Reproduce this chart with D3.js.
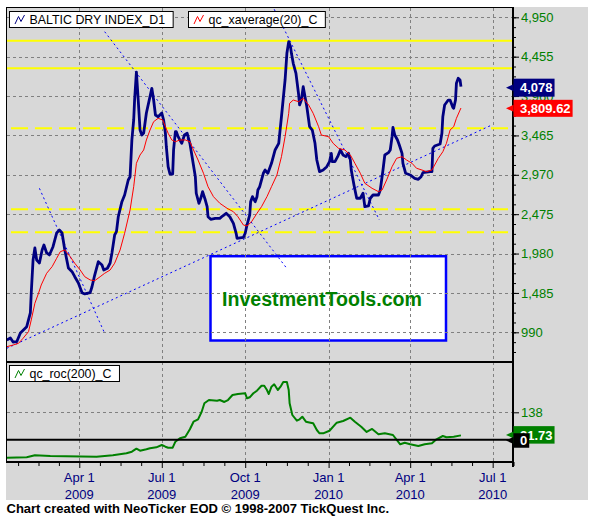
<!DOCTYPE html>
<html><head><meta charset="utf-8">
<script src="https://cdn.jsdelivr.net/npm/d3@7"></script>
<style>html,body{margin:0;padding:0;background:#fff;}svg{display:block;}</style>
</head><body>
<svg id="c" width="606" height="525" font-family="'Liberation Sans', Arial, sans-serif"></svg>
<script>
// ---------------- DATA ----------------
const bdiDates = ["2009-01-11","2009-01-15","2009-01-18","2009-01-22","2009-01-26","2009-02-02","2009-02-06","2009-02-07","2009-02-09","2009-02-11",
"2009-02-13","2009-02-16","2009-02-19","2009-02-21","2009-02-24","2009-02-27","2009-03-03","2009-03-07","2009-03-10","2009-03-13",
"2009-03-16","2009-03-20","2009-03-24","2009-03-27","2009-03-31","2009-04-04","2009-04-07","2009-04-13","2009-04-15","2009-04-18",
"2009-04-22","2009-04-26","2009-04-28","2009-05-02","2009-05-05","2009-05-07","2009-05-10","2009-05-12","2009-05-14","2009-05-18",
"2009-05-21","2009-05-25","2009-05-27","2009-05-29","2009-05-31","2009-06-01","2009-06-03","2009-06-05","2009-06-07","2009-06-09",
"2009-06-11","2009-06-14","2009-06-20","2009-06-22","2009-06-24","2009-06-27","2009-07-01","2009-07-03","2009-07-05","2009-07-06",
"2009-07-08","2009-07-10","2009-07-13","2009-07-14","2009-07-16","2009-07-17","2009-07-19","2009-07-23","2009-07-26","2009-07-29",
"2009-08-01","2009-08-04","2009-08-07","2009-08-08","2009-08-11","2009-08-13","2009-08-15","2009-08-18","2009-08-20","2009-08-21",
"2009-08-24","2009-08-29","2009-09-03","2009-09-06","2009-09-10","2009-09-14","2009-09-18","2009-09-21","2009-09-22","2009-09-29",
"2009-10-01","2009-10-03","2009-10-06","2009-10-07","2009-10-09","2009-10-12","2009-10-14","2009-10-15","2009-10-17","2009-10-21",
"2009-10-23","2009-10-26","2009-10-30","2009-11-03","2009-11-07","2009-11-10","2009-11-14","2009-11-16","2009-11-18","2009-11-20",
"2009-11-21","2009-11-23","2009-11-26","2009-11-29","2009-11-30","2009-12-02","2009-12-04","2009-12-06","2009-12-08","2009-12-11",
"2009-12-14","2009-12-17","2009-12-19","2009-12-22","2009-12-26","2009-12-30","2010-01-02","2010-01-04","2010-01-05","2010-01-08",
"2010-01-11","2010-01-14","2010-01-17","2010-01-20","2010-01-23","2010-01-25","2010-01-26","2010-01-29","2010-02-01","2010-02-05",
"2010-02-08","2010-02-10","2010-02-14","2010-02-16","2010-02-19","2010-02-25","2010-02-27","2010-03-02","2010-03-04","2010-03-08",
"2010-03-10","2010-03-12","2010-03-13","2010-03-15","2010-03-18","2010-03-20","2010-03-23","2010-03-24","2010-03-27","2010-04-01",
"2010-04-06","2010-04-10","2010-04-13","2010-04-15","2010-04-23","2010-04-25","2010-04-26","2010-04-28","2010-05-04","2010-05-06",
"2010-05-07","2010-05-09","2010-05-13","2010-05-15","2010-05-18","2010-05-19","2010-05-21","2010-05-22","2010-05-24","2010-05-26","2010-05-27"];
const bdiValues = [893,919,868,872,981,1061,1233,1484,1899,2050,
1899,1861,2025,2088,1987,1962,2066,2238,2276,2238,
2025,1798,1752,1689,1610,1488,1472,1488,1563,1710,
1878,1836,1773,1795,1861,1987,2213,2255,2443,2632,
2716,2905,2946,3408,3659,3910,4262,3910,3533,3470,
3495,3747,4057,3910,3722,3700,3747,3659,3492,3323,
3072,2980,2980,3282,3512,3512,3449,3366,3470,3492,
3366,3156,2946,2738,2612,2675,2758,2653,2569,2443,
2411,2423,2423,2452,2486,2443,2360,2235,2172,2184,
2235,2339,2465,2632,2695,2632,2695,2779,2820,2989,
3030,2989,3115,3282,3366,3700,4162,4497,4643,4580,
4497,4372,4246,3973,3848,3910,4078,3952,3826,3575,
3533,3366,3156,3009,3030,3072,3135,3240,3135,3135,
3198,3282,3219,3198,3240,3156,3030,2842,2675,2675,
2738,2569,2578,2675,2716,2716,2779,3030,3219,3248,
3282,3449,3567,3470,3408,3345,3240,3115,2989,2968,
2926,2913,2946,2996,3009,3009,3303,3332,3357,3492,
3700,3848,3910,3910,3819,3806,3910,4120,4183,4162,4078];

const avgDates = ["2009-01-11","2009-01-18","2009-01-24","2009-01-29","2009-02-04","2009-02-07","2009-02-11","2009-02-15","2009-02-18","2009-02-24",
"2009-03-02","2009-03-07","2009-03-11","2009-03-16","2009-03-22","2009-03-27","2009-04-02","2009-04-07","2009-04-13","2009-04-18",
"2009-04-24","2009-04-29","2009-05-05","2009-05-10","2009-05-16","2009-05-21","2009-05-27","2009-05-31","2009-06-03","2009-06-07",
"2009-06-11","2009-06-14","2009-06-18","2009-06-22","2009-06-27","2009-07-02","2009-07-05","2009-07-08","2009-07-12","2009-07-16",
"2009-07-21","2009-07-27","2009-08-01","2009-08-05","2009-08-10","2009-08-16","2009-08-21","2009-08-27","2009-09-03","2009-09-11",
"2009-09-18","2009-09-23","2009-09-29","2009-10-03","2009-10-08","2009-10-14","2009-10-19","2009-10-25","2009-10-30","2009-11-05",
"2009-11-10","2009-11-14","2009-11-18","2009-11-19","2009-11-23","2009-11-29","2009-12-04","2009-12-10","2009-12-15","2009-12-21",
"2009-12-24","2010-01-01","2010-01-06","2010-01-12","2010-01-19","2010-01-25","2010-01-30","2010-02-05","2010-02-10","2010-02-18",
"2010-02-25","2010-03-01","2010-03-06","2010-03-12","2010-03-17","2010-03-23","2010-03-28","2010-04-03","2010-04-08","2010-04-14",
"2010-04-19","2010-04-25","2010-04-28","2010-05-02","2010-05-07","2010-05-11","2010-05-15","2010-05-19","2010-05-22","2010-05-27"];
const avgValues = [809,830,852,915,998,1145,1355,1480,1585,1732,
1815,1920,2003,2025,1940,1858,1773,1689,1648,1639,
1689,1732,1773,1858,2025,2235,2528,2820,3115,3219,
3282,3408,3533,3638,3680,3659,3575,3492,3408,3386,
3408,3408,3386,3282,3156,2989,2820,2695,2612,2549,
2506,2443,2339,2326,2380,2486,2569,2695,2820,2968,
3198,3449,3743,3869,3910,3889,3932,3848,3743,3575,
3470,3449,3366,3303,3282,3219,3115,2989,2863,2800,
2758,2779,2905,3072,3177,3198,3156,3115,3052,3030,
3009,3030,3093,3177,3260,3366,3533,3575,3680,3809.62];

const rocDates = ["2009-01-11","2009-02-02","2009-02-11","2009-02-28","2009-04-20","2009-05-08","2009-05-23","2009-05-29","2009-06-03","2009-06-07",
"2009-06-14","2009-06-18","2009-06-25","2009-07-01","2009-07-05","2009-07-08","2009-07-13","2009-07-16","2009-07-21","2009-07-27",
"2009-08-01","2009-08-05","2009-08-10","2009-08-14","2009-08-17","2009-08-22","2009-08-31","2009-09-03","2009-09-08","2009-09-12",
"2009-09-17","2009-09-23","2009-10-01","2009-10-03","2009-10-06","2009-10-10","2009-10-14","2009-10-19","2009-10-22","2009-10-25",
"2009-10-27","2009-10-30","2009-11-02","2009-11-06","2009-11-09","2009-11-12","2009-11-16","2009-11-18","2009-11-19","2009-11-22",
"2009-11-27","2009-11-30","2009-12-03","2009-12-07","2009-12-12","2009-12-15","2009-12-19","2009-12-22","2009-12-26","2010-01-02",
"2010-01-10","2010-01-17","2010-01-25","2010-01-30","2010-02-06","2010-02-12","2010-02-18","2010-02-25","2010-03-04","2010-03-13",
"2010-03-21","2010-03-26","2010-04-01","2010-04-10","2010-04-17","2010-04-25","2010-04-30","2010-05-07","2010-05-11","2010-05-19","2010-05-27"];
const rocValues = [-90.6,-88.6,-78.6,-82.1,-85.6,-78.6,-68.5,-60.4,-45.3,-55.4,
-48.3,-43.3,-38.3,-26.7,-35.3,-40.3,-40.3,-10.1,7.1,15.1,
52.4,90.6,102.7,141,183.3,199.9,196.4,199.9,189.9,199.9,
225.1,230.1,233.7,208.5,213.5,233.7,246.8,271.9,271.9,250.3,
230.1,266.9,279,250.3,266.9,290.6,290.6,250.3,183.3,124.4,
95.7,102.7,115.8,90.6,85.6,82.6,48.8,32.2,32.2,45.3,
85.6,94.2,110.8,90.6,65.5,38.8,53.9,27.2,32.2,23.7,
-23.2,-15.1,-23.2,-31.7,-23.2,-18.1,2.0,18.6,12.1,15.1,21.73];

// trend lines (start/end date & value)
const trendFromDates = ["2009-01-11","2009-02-16","2009-04-29","2009-11-02"];
const trendFromValues = [789, 2800, 4769, 5051];
const trendToDates = ["2010-06-30","2009-04-29","2009-11-15","2010-02-26"];
const trendToValues = [3596, 978, 1807, 2402];

const yellowSolidLevels = [4656, 4309];
const yellowDashedLevels = [3555, 2536, 2247];

const priceTicks = [990,1485,1980,2475,2970,3465,3960,4455,4950];
const priceMinorStep = 123.75;
const rocTicks = [138];

const quarterDates = ["2009-04-01","2009-07-01","2009-10-01","2010-01-01","2010-04-01","2010-07-01"];
const quarterLabels = ["Apr 1","Jul 1","Oct 1","Jan 1","Apr 1","Jul 1"];
const yearLabels = ["2009","2009","2009","2010","2010","2010"];
const allQuarters = ["2009-01-01","2009-04-01","2009-07-01","2009-10-01","2010-01-01","2010-04-01","2010-07-01","2010-10-01"];

const legendMain = ["BALTIC DRY INDEX_D1","qc_xaverage(20)_C"];
const legendRoc = "qc_roc(200)_C";
const lastLabels = {bdi:"4,078", avg:"3,809.62", roc:"21.73", zero:"0"};
const watermark = "InvestmentTools.com";
const footer = "Chart created with NeoTicker EOD \u00A9 1998-2007 TickQuest Inc.";

// ---------------- SETUP ----------------
const parse = d3.utcParse("%Y-%m-%d");
const svg = d3.select("#c");
const L = 7, R = 513, T = 8, MB = 362, B = 462;
const FONT = "'Liberation Sans', Arial, sans-serif";

const x = d3.scaleUtc().domain([new Date(Date.UTC(2009,0,11,6)), new Date(Date.UTC(2010,6,23,10))]).range([L, R]);
const yP = d3.scaleLinear().domain([616.6, 5067]).range([MB, T]);
const yR = d3.scaleLinear().domain([-112.3, 391.3]).range([B, MB]);

const bdi = bdiDates.map((d,i)=>({date:parse(d), v:bdiValues[i]}));
const avg = avgDates.map((d,i)=>({date:parse(d), v:avgValues[i]}));
const roc = rocDates.map((d,i)=>({date:parse(d), v:rocValues[i]}));
const qd = quarterDates.map(parse);

// background
svg.append("rect").attr("x",6).attr("y",7).attr("width",582).attr("height",493).attr("fill","#d8d8d8");

const defs = svg.append("defs");
defs.append("clipPath").attr("id","clipP").append("rect").attr("x",L).attr("y",T).attr("width",R-L).attr("height",MB-T);
defs.append("clipPath").attr("id","clipR").append("rect").attr("x",L).attr("y",MB).attr("width",R-L).attr("height",B-MB);

// watermark box
svg.append("rect").attr("x",210.5).attr("y",256.2).attr("width",235.5).attr("height",84.3)
  .attr("fill","#fff").attr("stroke","#0000ff").attr("stroke-width",2.5);

// grid
const grid = svg.append("g").attr("stroke","#808080").attr("stroke-width",1).attr("stroke-dasharray","3,3");
priceTicks.forEach(v=>{
  const yy = Math.round(yP(v))+0.5;
  grid.append("line").attr("x1",L).attr("x2",R).attr("y1",yy).attr("y2",yy);
});
rocTicks.forEach(v=>{
  const yy = Math.round(yR(v))+0.5;
  grid.append("line").attr("x1",L).attr("x2",R).attr("y1",yy).attr("y2",yy);
});
qd.forEach(d=>{
  const xx = Math.round(x(d))+0.5;
  if (xx < R) grid.append("line").attr("x1",xx).attr("x2",xx).attr("y1",T).attr("y2",B);
});

// watermark text
svg.append("text").attr("x",222).attr("y",306).attr("font-family",FONT).attr("font-weight","bold")
  .attr("font-size","19.6px").attr("fill","#008000").text(watermark);

// yellow levels
const gp = svg.append("g").attr("clip-path","url(#clipP)");
yellowSolidLevels.forEach(v=>{
  gp.append("line").attr("x1",L).attr("x2",R).attr("y1",yP(v)).attr("y2",yP(v))
    .attr("stroke","#ffff00").attr("stroke-width",2);
});
yellowDashedLevels.forEach(v=>{
  gp.append("line").attr("x1",L+4).attr("x2",R).attr("y1",yP(v)).attr("y2",yP(v))
    .attr("stroke","#ffff00").attr("stroke-width",2).attr("stroke-dasharray","17,7");
});

// trend lines
trendFromDates.forEach((d,i)=>{
  gp.append("line")
    .attr("x1",x(parse(d))).attr("y1",yP(trendFromValues[i]))
    .attr("x2",x(parse(trendToDates[i]))).attr("y2",yP(trendToValues[i]))
    .attr("stroke","#0000ff").attr("stroke-width",1).attr("stroke-dasharray","2,3");
});

// series
const lineP = d3.line().x(d=>x(d.date)).y(d=>yP(d.v));
gp.append("path").datum(bdi).attr("d",lineP).attr("fill","none").attr("stroke","#000080")
  .attr("stroke-width",2.8).attr("stroke-linejoin","round");
gp.append("path").datum(avg).attr("d",lineP).attr("fill","none").attr("stroke","#ff0000").attr("stroke-width",1);

const lineR = d3.line().x(d=>x(d.date)).y(d=>yR(d.v));
svg.append("g").attr("clip-path","url(#clipR)").append("path").datum(roc).attr("d",lineR)
  .attr("fill","none").attr("stroke","#008000").attr("stroke-width",2).attr("stroke-linejoin","round");

// frame
const fr = svg.append("g").attr("stroke","#000");
fr.append("line").attr("x1",6).attr("x2",R).attr("y1",7.5).attr("y2",7.5).attr("stroke-width",1);
fr.append("line").attr("x1",6.5).attr("x2",6.5).attr("y1",7).attr("y2",B).attr("stroke-width",1);
fr.append("line").attr("x1",6).attr("x2",R).attr("y1",MB).attr("y2",MB).attr("stroke-width",2);
fr.append("line").attr("x1",6).attr("x2",R).attr("y1",B).attr("y2",B).attr("stroke-width",2);
fr.append("line").attr("x1",6).attr("x2",R).attr("y1",yR(0)).attr("y2",yR(0)).attr("stroke-width",2);
fr.append("line").attr("x1",R).attr("x2",R).attr("y1",7).attr("y2",467).attr("stroke-width",2);

// right axes
function styleAxis(g){
  g.attr("font-family",FONT).attr("font-size",13);
  g.select(".domain").remove();
  g.selectAll(".tick line").attr("stroke","#000");
  g.selectAll(".tick text").attr("fill","#008000");
}
const minorPrice = d3.range(742.5, 5067, priceMinorStep);
svg.append("g").attr("transform",`translate(${R},0)`)
  .call(d3.axisRight(yP).tickValues(minorPrice).tickSize(3).tickFormat("")).call(styleAxis);
svg.append("g").attr("transform",`translate(${R},0)`)
  .call(d3.axisRight(yP).tickValues(priceTicks).tickSize(6).tickPadding(2).tickFormat(d3.format(","))).call(styleAxis);
svg.append("g").attr("transform",`translate(${R},0)`)
  .call(d3.axisRight(yR).tickValues(rocTicks).tickSize(6).tickPadding(2).tickFormat(d3.format(","))).call(styleAxis);

// x axis
const aq = allQuarters.map(parse);
const minorX = [];
for (let i=0;i<aq.length-1;i++){
  for (let k=1;k<4;k++){
    const t = new Date(+aq[i] + (aq[i+1]-aq[i])*k/4);
    if (x(t) >= L && x(t) <= R+1) minorX.push(t);
  }
}
function styleX(g){ g.select(".domain").remove(); g.selectAll(".tick line").attr("stroke","#000"); }
svg.append("g").attr("transform",`translate(0,${B})`)
  .call(d3.axisBottom(x).tickValues(minorX).tickSize(4).tickFormat("")).call(styleX);
svg.append("g").attr("transform",`translate(0,${B})`)
  .call(d3.axisBottom(x).tickValues(qd).tickSize(6).tickFormat("")).call(styleX);
const xl = svg.append("g").attr("font-family",FONT).attr("font-size","13px").attr("fill","#000080").attr("text-anchor","middle");
qd.forEach((d,i)=>{
  xl.append("text").attr("x",x(d)).attr("y",482).text(quarterLabels[i]);
  xl.append("text").attr("x",x(d)).attr("y",498.5).text(yearLabels[i]);
});

// legends
function legend(x0, y0, label, color){
  const g = svg.append("g");
  const t = g.append("text").attr("x",x0+20).attr("y",y0+12.5).attr("font-family",FONT)
    .attr("font-size","12.4px").attr("fill","#000").text(label);
  const w = t.node().getComputedTextLength();
  g.insert("rect","text").attr("x",x0).attr("y",y0).attr("width",w+28).attr("height",16)
    .attr("fill","#fff").attr("stroke","#000").attr("stroke-width",1);
  g.append("path").attr("d",`M${x0+5.5},${y0+12.5}L${x0+9},${y0+5}L${x0+11.5},${y0+10}L${x0+15},${y0+3.5}`)
    .attr("fill","none").attr("stroke",color).attr("stroke-width",1);
}
legend(9.5, 11.5, legendMain[0], "#000080");
legend(188.5, 11.5, legendMain[1], "#ff0000");
legend(9.5, 365.5, legendRoc, "#008000");

// last value boxes
function valueBox(yc, txt, fill, h){
  const g = svg.append("g");
  const t = g.append("text").attr("x",520).attr("y",yc).attr("dy","0.36em").attr("font-family",FONT)
    .attr("font-size","13px").attr("font-weight","bold").attr("fill","#fff").text(txt);
  const w = t.node().getComputedTextLength();
  g.insert("rect","text").attr("x",513.5).attr("y",yc-h/2).attr("width",w+8.5).attr("height",h).attr("fill",fill);
  g.insert("path","text").attr("d",`M506,${yc}L513.5,${yc-3.5}L513.5,${yc+3.5}Z`).attr("fill",fill);
}
valueBox(yP(bdiValues[bdiValues.length-1])+1, lastLabels.bdi, "#000080", 18);
valueBox(yP(avgValues[avgValues.length-1])+0.3, lastLabels.avg, "#ff0000", 17);
valueBox(yR(rocValues[rocValues.length-1])-0.5, lastLabels.roc, "#008000", 17.5);
valueBox(yR(0)+0.8, lastLabels.zero, "#000000", 14.5);

// footer
svg.append("text").attr("x",6.5).attr("y",512.7).attr("font-family",FONT).attr("font-size","13px")
  .attr("font-weight","bold").attr("fill","#000").text(footer);
</script>
</body></html>
